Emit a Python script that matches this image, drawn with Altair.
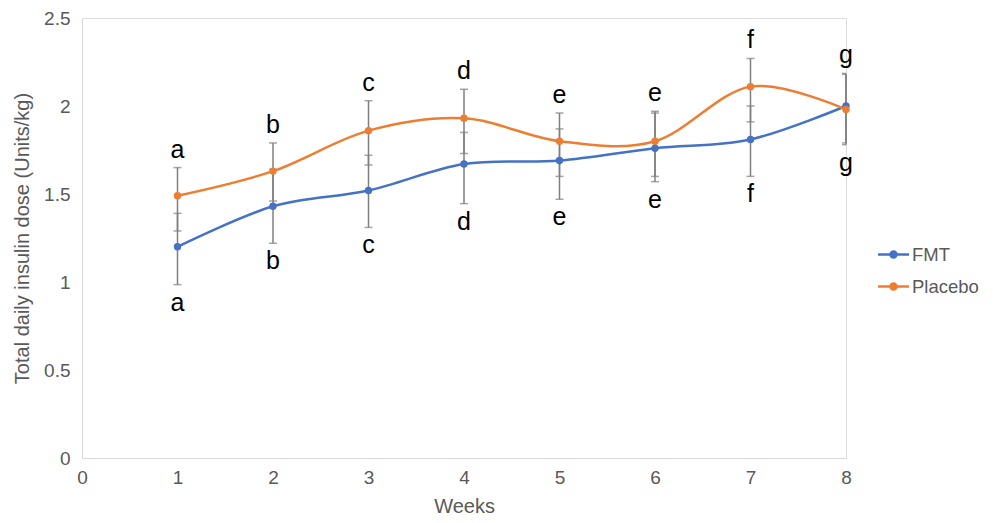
import altair as alt
import pandas as pd

weeks = [1, 2, 3, 4, 5, 6, 7, 8]
fmt = [1.20, 1.43, 1.52, 1.67, 1.69, 1.76, 1.81, 2.00]
fmt_lo = [0.985, 1.22, 1.31, 1.445, 1.47, 1.57, 1.60, 1.79]
fmt_hi = [1.39, 1.64, 1.72, 1.85, 1.87, 1.96, 2.00, 2.185]
placebo = [1.49, 1.63, 1.86, 1.93, 1.80, 1.80, 2.11, 1.98]
placebo_lo = [1.29, 1.46, 1.665, 1.73, 1.60, 1.60, 1.91, 1.78]
placebo_hi = [1.65, 1.79, 2.03, 2.095, 1.96, 1.97, 2.27, 2.18]
letters = ["a", "b", "c", "d", "e", "e", "f", "g"]
groups = ["FMT", "Placebo"]
colors = ["#4472C4", "#ED7D31"]

rows = []
for i, w in enumerate(weeks):
    rows.append({"week": w, "group": "FMT", "value": fmt[i], "lo": fmt_lo[i], "hi": fmt_hi[i]})
    rows.append({"week": w, "group": "Placebo", "value": placebo[i], "lo": placebo_lo[i], "hi": placebo_hi[i]})
df = pd.DataFrame(rows)

lab = pd.DataFrame({
    "week": weeks,
    "letter": letters,
    "top": [max(a, b) for a, b in zip(fmt_hi, placebo_hi)],
    "bottom": [min(a, b) for a, b in zip(fmt_lo, placebo_lo)],
})

FONT = "Liberation Sans"
GRAY = "#595959"

xs = alt.Scale(domain=[0, 8], nice=False, zero=False)
ys = alt.Scale(domain=[0, 2.5], nice=False)
x = alt.X("week:Q", scale=xs, title="Weeks",
          axis=alt.Axis(values=[0, 1, 2, 3, 4, 5, 6, 7, 8], format="d", grid=False, ticks=False,
                        labelFlush=False, labelOverlap=False,
                        domainColor="#D9D9D9", labelColor=GRAY, labelFontSize=19, labelFont=FONT,
                        labelPadding=10, titleColor=GRAY, titleFontSize=20, titleFont=FONT,
                        titleFontWeight="normal", titlePadding=9))
y = alt.Y("value:Q", scale=ys, title="Total daily insulin dose (Units/kg)",
          axis=alt.Axis(values=[0, 0.5, 1, 1.5, 2, 2.5], format="~g", grid=False, ticks=False,
                        labelFlush=False, labelOverlap=False,
                        domainColor="#D9D9D9", labelColor=GRAY, labelFontSize=19, labelFont=FONT,
                        labelPadding=12, titleColor=GRAY, titleFontSize=20, titleFont=FONT,
                        titleFontWeight="normal", titlePadding=11))
color_scale = alt.Scale(domain=groups, range=colors)

base = alt.Chart(df)

bars = base.mark_rule(color="#7F7F7F", strokeWidth=1.5).encode(
    x=alt.X("week:Q", scale=xs), y=alt.Y("lo:Q", scale=ys), y2="hi:Q")
cap_lo = base.mark_tick(color="#7F7F7F", orient="horizontal", size=8, thickness=1.5, clip=True).encode(
    x=alt.X("week:Q", scale=xs), y=alt.Y("lo:Q", scale=ys))
cap_hi = base.mark_tick(color="#7F7F7F", orient="horizontal", size=8, thickness=1.5, clip=True).encode(
    x=alt.X("week:Q", scale=xs), y=alt.Y("hi:Q", scale=ys))

legend_symbol = ("M-1.55,0L1.55,0M-0.3,0A0.3,0.3 0 1,0 0.3,0A0.3,0.3 0 1,0 -0.3,0"
                 "M-0.18,0A0.18,0.18 0 1,0 0.18,0A0.18,0.18 0 1,0 -0.18,0"
                 "M-0.07,0A0.07,0.07 0 1,0 0.07,0A0.07,0.07 0 1,0 -0.07,0")

lines = base.mark_line(interpolate="cardinal", strokeWidth=2.5).encode(
    x=x, y=y,
    color=alt.Color("group:N", scale=color_scale,
                    legend=alt.Legend(title=None, orient="none", legendX=800, legendY=225,
                                      symbolType=legend_symbol, symbolSize=400,
                                      symbolStrokeWidth=2.5, labelFontSize=18.5, labelFont=FONT,
                                      labelColor=GRAY, rowPadding=11, labelOffset=7, padding=0)))
points = base.mark_point(filled=True, size=55, opacity=1).encode(
    x=alt.X("week:Q", scale=xs), y=alt.Y("value:Q", scale=ys),
    color=alt.Color("group:N", scale=color_scale, legend=None))

top_text = alt.Chart(lab).mark_text(fontSize=25, font=FONT, color="#000000", baseline="alphabetic", dy=-10).encode(
    x=alt.X("week:Q", scale=xs), y=alt.Y("top:Q", scale=ys), text="letter:N")
bot_text = alt.Chart(lab).mark_text(fontSize=25, font=FONT, color="#000000", baseline="alphabetic", dy=26).encode(
    x=alt.X("week:Q", scale=xs), y=alt.Y("bottom:Q", scale=ys), text="letter:N")

chart = alt.layer(bars, cap_lo, cap_hi, lines, points, top_text, bot_text).properties(
    width=764, height=440,
    autosize=alt.AutoSizeParams(type="none"),
    padding={"left": 74, "top": 10, "right": 139, "bottom": 57},
).configure_view(stroke=None).configure(background="white")

chart.save("out.html", embed_options={"renderer": "svg", "actions": False})
